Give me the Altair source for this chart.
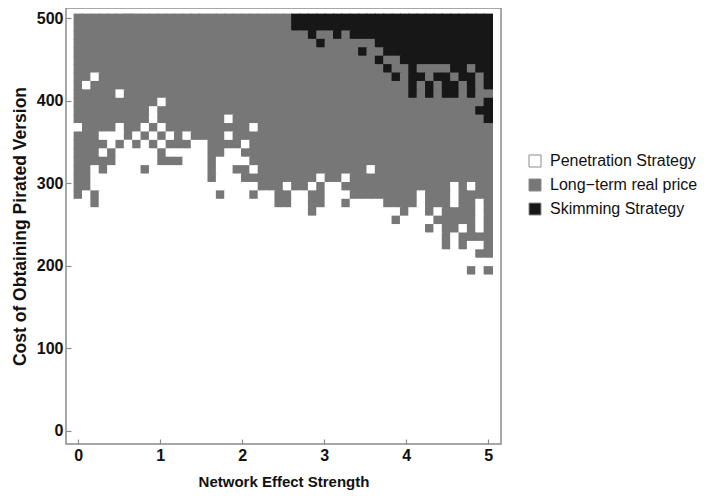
import altair as alt
import numpy as np
import pandas as pd

# grid of the simulation: 50 x 50 cells
X_GRID = np.linspace(0, 5, 50)
Y_GRID = np.linspace(500, 0, 50)          # first row = top (500)

CATEGORIES = ["Penetration Strategy", "Long\u2212term real price", "Skimming Strategy"]
COLORS = ["#ffffff", "#777777", "#171717"]
CODE = {".": CATEGORIES[0], "g": CATEGORIES[1], "b": CATEGORIES[2]}

# each string = one row of cells (columns x = 0 ... 5), from y = 500 downwards
ROWS = [
    "gggggggggg gggggggggg ggggggbbbb bbbbbbbbbb bbbbbbbbbb",
    "gggggggggg gggggggggg ggggggbbbb bbbbbbbbbb bbbbbbbbbb",
    "gggggggggg gggggggggg ggggggggbg gbgbbbbbbb bbbbbbbbbb",
    "gggggggggg gggggggggg gggggggggb ggggggbbbb bbbbbbbbbb",
    "gggggggggg gggggggggg gggggggggg ggggbggbbb bbbbbbbbbb",
    "gggggggggg gggggggggg gggggggggg ggggggbggb bbbbbbbbbb",
    "gggggggggg gggggggggg gggggggggg gggggggbgg bggggbbgbb",
    "gg.ggggggg gggggggggg gggggggggg ggggggggbg bbgbbgbbgb",
    "g.gggggggg gggggggggg gggggggggg gggggggggg bgbgbbgbgb",
    "ggggg.gggg gggggggggg gggggggggg gggggggggg bgbgbbgbgg",
    "gggggggggg .ggggggggg gggggggggg gggggggggg gggggggggb",
    "ggggggggg. gggggggggg gggggggggg gggggggggg ggggggggbb",
    "ggggggggg. gggggggg.g gggggggggg gggggggggg gggggggggb",
    ".gggg.gg.g .ggggggggg g.gggggggg gggggggggg gggggggggg",
    "ggg...g.g. g.g.gggg.g gggggggggg gggggggggg gggggggggg",
    "gggg.g.g.g .ggg..gggg .ggggggggg gggggggggg gggggggggg",
    "ggg.g..... g.....gg.. gggggggggg gggggggggg gggggggggg",
    "ggggg..... ggg...g... .ggggggggg gggggggggg gggggggggg",
    "gg.g....g. ......g..g g.gggggggg ggggg.gggg gggggggggg",
    "gg........ ......g... ggggggggg. gg.ggggggg gggggggggg",
    "gg........ .......... ..ggg.gg.g ..gggggggg ggggg.g.gg",
    "g.g....... .......g.. .g..gg..gg ...ggggggg g.ggg.gggg",
    "..g....... .......... ....gg..gg ..g....ggg g.ggg.gg.g",
    ".......... .......... ........g. .........g ..g.gggg.g",
    ".......... .......... .......... ........g. ...ggggg.g",
    ".......... .......... .......... .......... ..g.gg.g.g",
    ".......... .......... .......... .......... ....g.gggg",
    ".......... .......... .......... .......... ....g.g..g",
    ".......... .......... .......... .......... ........gg",
    ".......... .......... .......... .......... ..........",
    ".......... .......... .......... .......... .......g.g",
]
BLANK_ROWS = 50 - len(ROWS)   # lower part of the grid is all penetration
ROWS = ROWS + [".........." * 5] * BLANK_ROWS

X_TICKS = [0, 1, 2, 3, 4, 5]
Y_TICKS = [0, 100, 200, 300, 400, 500]

records = []
for k, row in enumerate(ROWS):
    row = (row.replace(" ", "") + "." * 50)[:50]
    for c, ch in enumerate(row):
        records.append({"x": float(X_GRID[c]), "y": float(Y_GRID[k]), "s": CODE[ch]})
df = pd.DataFrame(records)

# half cell sizes, slightly enlarged so neighbouring cells leave no anti-aliasing seams
hx = 5 / 49 / 2 * 1.12
hy = 500 / 49 / 2 * 1.12

FONT = "Liberation Sans"
color_scale = alt.Scale(domain=CATEGORIES, range=COLORS)

chart = (
    alt.Chart(df)
    .transform_calculate(
        x1=f"datum.x - {hx}", x2=f"datum.x + {hx}",
        y1=f"datum.y - {hy}", y2=f"datum.y + {hy}",
    )
    .mark_rect(strokeWidth=0)
    .encode(
        x=alt.X("x1:Q",
                scale=alt.Scale(domain=[-0.15, 5.155], nice=False, zero=False),
                axis=alt.Axis(values=X_TICKS, format="d", title="Network Effect Strength",
                              offset=-5, tickSize=5, domain=False, grid=False,
                              labelPadding=3, titlePadding=11, titleFontSize=15)),
        x2="x2:Q",
        y=alt.Y("y1:Q",
                scale=alt.Scale(domain=[-16, 512.5], nice=False, zero=False),
                axis=alt.Axis(values=Y_TICKS, format="d", title="Cost of Obtaining Pirated Version",
                              offset=-5, tickSize=5, domain=False, grid=False,
                              labelPadding=3, titlePadding=7, titleFontSize=17.5)),
        y2="y2:Q",
        color=alt.Color("s:N", scale=color_scale,
                        legend=alt.Legend(title=None, orient="none", legendX=461, legendY=145,
                                          symbolType="square", symbolSize=144,
                                          symbolStrokeColor="#8c8c8c", symbolStrokeWidth=1,
                                          labelFont=FONT, labelFontSize=16, labelColor="#111111",
                                          labelLimit=400, labelOffset=7, rowPadding=8, padding=0)),
    )
    .properties(width=435, height=436,
                autosize=alt.AutoSizeParams(type="none"),
                padding={"left": 58, "top": 0, "right": 199, "bottom": 52})
    .configure_view(stroke="#8a8a8a", strokeWidth=1.5)
    .configure_axis(labelFont=FONT, labelFontSize=16, labelFontWeight="bold", labelColor="#111111",
                    titleFont=FONT, titleFontWeight="bold", titleColor="#111111",
                    tickColor="#8a8a8a", tickWidth=1.2)
)

chart.save("out.html", embed_options={"renderer": "svg", "actions": False})
